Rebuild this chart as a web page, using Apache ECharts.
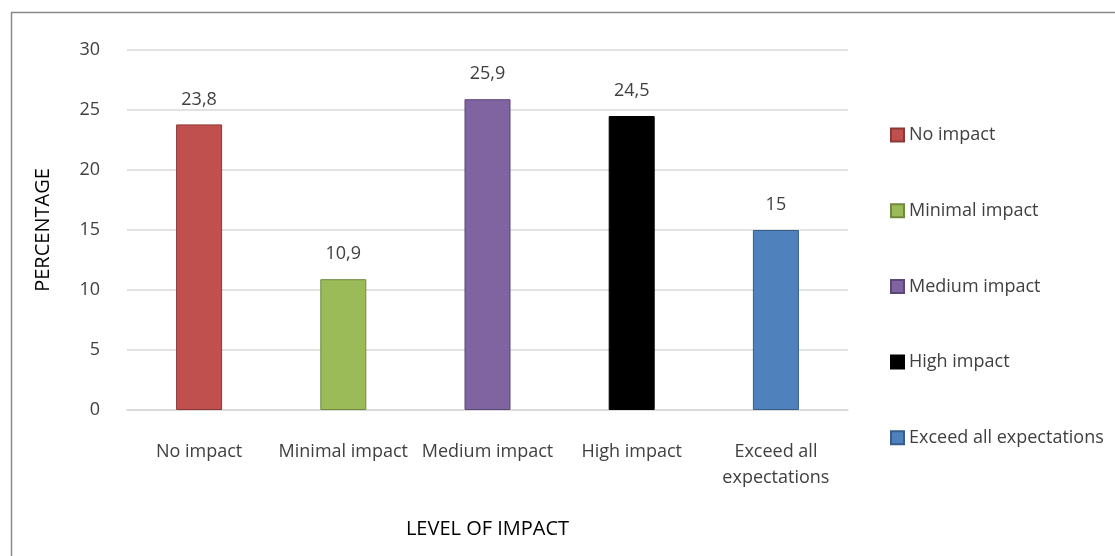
<!DOCTYPE html>
<html>
<head>
<meta charset="utf-8">
<script src="https://cdn.jsdelivr.net/npm/echarts@6/dist/echarts.min.js"></script>
<style>html,body{margin:0;padding:0;background:#fff}#c{width:1115px;height:556px}</style>
</head>
<body>
<div id="c"></div>
<script>
const categories = ['No impact', 'Minimal impact', 'Medium impact', 'High impact', 'Exceed all expectations'];
const axisLabels = ['No impact', 'Minimal impact', 'Medium impact', 'High impact', 'Exceed all\nexpectations'];
const values = [23.8, 10.9, 25.9, 24.5, 15];
const yTicks = [0, 5, 10, 15, 20, 25, 30];
const fills = ['#C0504D', '#9BBB59', '#8064A2', '#000000', '#4F81BD'];
const borders = ['#8C3836', '#71893F', '#5C4776', '#000000', '#385D8A'];

const font = "'Open Sans', 'Noto Sans', sans-serif";
const txt = '#404040';

const series = categories.map((name, i) => ({
  name: name,
  type: 'bar',
  stack: 'all',
  barWidth: 46,
  data: values.map((v, j) => j === i ? v : '-'),
  itemStyle: { color: fills[i], borderColor: borders[i], borderWidth: 1 },
  label: {
    show: true, position: 'top', distance: 16,
    color: txt, fontFamily: font, fontSize: 18,
    formatter: p => String(p.value).replace('.', ',')
  }
}));

const chart = echarts.init(document.getElementById('c'), null, { renderer: 'canvas' });
chart.setOption({
  animation: false,
  graphic: [{
    type: 'rect', left: 9, top: 10,
    shape: { width: 1200, height: 600 },
    style: { fill: 'none', stroke: '#8a8a8a', lineWidth: 1.5 },
    silent: true, z: -1
  }],
  grid: { left: 127, top: 50, width: 721, height: 360, containLabel: false },
  legend: {
    orient: 'vertical', left: 885, top: 121,
    itemWidth: 13, itemHeight: 13, itemGap: 57.7,
    icon: 'rect',
    textStyle: { color: txt, fontFamily: font, fontSize: 18, lineHeight: 18 },
    data: categories
  },
  xAxis: {
    type: 'category',
    data: axisLabels,
    name: 'LEVEL OF IMPACT',
    nameLocation: 'middle',
    nameGap: 109,
    nameTextStyle: { color: '#000', fontFamily: font, fontSize: 20 },
    axisLine: { lineStyle: { color: '#d9d9d9', width: 1.5 } },
    axisTick: { show: false },
    axisLabel: { color: txt, fontFamily: font, fontSize: 18, margin: 29, lineHeight: 26, interval: 0 }
  },
  yAxis: {
    type: 'value',
    min: yTicks[0], max: yTicks[yTicks.length - 1], interval: 5,
    name: 'PERCENTAGE',
    nameLocation: 'middle',
    nameGap: 74,
    nameTextStyle: { color: '#000', fontFamily: font, fontSize: 20 },
    axisLine: { show: false },
    axisTick: { show: false },
    splitLine: { lineStyle: { color: '#d9d9d9', width: 1.5 } },
    axisLabel: { color: txt, fontFamily: font, fontSize: 18, margin: 27 }
  },
  series: series
});
</script>
</body>
</html>
